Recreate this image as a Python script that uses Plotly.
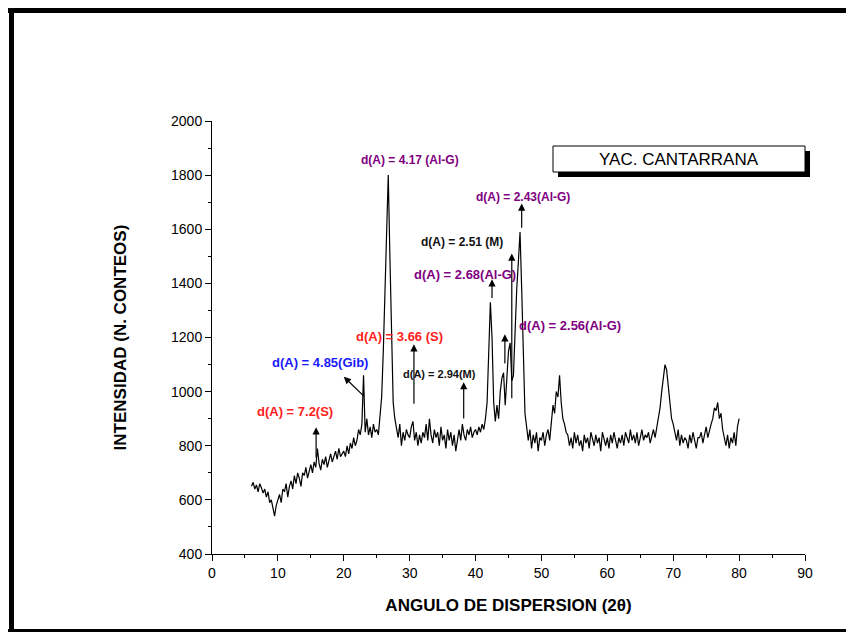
import plotly.graph_objects as go

x_start = 6.0
x_step = 0.25
intensity = [
650,665,640,655,630,660,645,625,
640,610,630,590,600,565,540,580,
600,620,590,640,630,660,610,650,
670,640,690,660,700,680,650,700,
690,720,680,710,730,700,740,720,
790,735,710,750,730,760,720,745,
770,740,760,780,750,790,760,770,
780,760,800,770,810,790,830,800,
820,860,840,880,1060,850,900,840,
870,830,880,850,860,840,900,980,
1150,1400,1600,1800,1500,1150,960,900,
860,830,880,800,850,820,860,840,
830,870,890,820,850,800,840,810,
850,830,880,820,900,840,810,860,
830,850,800,870,820,840,790,860,
820,850,800,840,780,830,860,820,
880,840,820,860,840,870,830,850,
860,840,870,850,880,860,900,960,
1150,1330,1200,960,890,950,900,1000,
1050,1070,950,1050,1150,1180,1040,1060,
1250,1380,1480,1590,1380,1100,920,870,
820,860,790,840,810,850,780,830,
820,850,800,840,860,820,880,950,
920,1000,980,1060,960,900,880,850,
840,800,830,790,850,810,840,800,
820,780,840,810,830,790,850,820,
800,840,810,830,780,850,820,800,
830,790,840,810,850,820,790,830,
810,840,800,850,830,810,860,820,
840,810,850,800,830,860,820,840,
830,850,810,840,860,830,870,900,
940,1000,1060,1100,1080,1020,970,900,
880,850,820,860,800,840,810,830,
820,790,840,810,850,820,790,830,
830,850,810,840,870,830,860,880,
900,940,930,960,900,920,860,830,
800,840,790,830,810,850,800,870,
900]
angle = [x_start + i * x_step for i in range(len(intensity))]

labels = ["d(A) = 7.2(S)", "d(A) = 4.85(Gib)", "d(A) = 3.66 (S)", "d(A) = 2.94(M)",
          "d(A) = 2.68(Al-G)", "d(A) = 2.56(Al-G)", "d(A) = 2.51 (M)", "d(A) = 2.43(Al-G)",
          "d(A) = 4.17 (Al-G)"]
colors = ["#ff2020", "#1a1aff", "#ff2020", "#111111", "#800080", "#800080", "#111111", "#800080", "#800080"]
text_x = [12.6, 16.4, 28.5, 34.6, 38.4, 54.3, 37.9, 47.2, 30.0]
text_y = [928, 1106, 1205, 1065, 1431, 1246, 1553, 1719, 1856]
tail_x = [15.8, 23.2, 30.65, 38.2, 42.5, 44.45, 45.5, 47.0, None]
tail_y = [750, 980, 950, 895, 1340, 1098, 970, 1600, None]
head_x = [15.8, 20.0, 30.65, 38.2, 42.5, 44.45, 45.5, 47.0, None]
head_y = [868, 1055, 1175, 1035, 1415, 1212, 1510, 1695, None]
sizes = [13, 13, 13, 11, 13, 13, 12, 12, 12]

fig = go.Figure()
fig.add_trace(go.Scatter(x=angle, y=intensity, mode="lines",
                         line=dict(color="black", width=1.2), showlegend=False))

ann = []
for i, t in enumerate(labels):
    ann.append(dict(x=text_x[i], y=text_y[i], xref="x", yref="y", text="<b>%s</b>" % t,
                    xanchor="center", showarrow=False,
                    font=dict(color=colors[i], size=sizes[i], family="Liberation Sans, Arial")))
    if tail_x[i] is not None:
        ann.append(dict(x=head_x[i], y=head_y[i], ax=tail_x[i], ay=tail_y[i],
                        xref="x", yref="y", axref="x", ayref="y", text="",
                        showarrow=True, arrowhead=2, arrowsize=1.2, arrowwidth=1.2,
                        arrowcolor="black"))

def px(p):
    return (p - 212) / 593

def py(p):
    return (554 - p) / 433

ann.append(dict(x=px(679), y=py(159), xref="paper", yref="paper", xanchor="center",
                yanchor="middle", text="YAC. CANTARRANA", showarrow=False,
                font=dict(size=17, color="black", family="Liberation Sans, Arial")))

shapes = [
    dict(type="rect", xref="paper", yref="paper", x0=px(558), x1=px(810), y0=py(151), y1=py(177),
         fillcolor="black", line=dict(width=0), layer="below"),
    dict(type="rect", xref="paper", yref="paper", x0=px(553), x1=px(805), y0=py(146), y1=py(172),
         fillcolor="white", line=dict(color="black", width=1), layer="below"),
    dict(type="line", xref="paper", yref="paper", x0=px(8), x1=px(860), y0=py(10.5), y1=py(10.5),
         line=dict(color="black", width=5)),
    dict(type="line", xref="paper", yref="paper", x0=px(11.5), x1=px(11.5), y0=py(8), y1=py(640),
         line=dict(color="black", width=5)),
    dict(type="line", xref="paper", yref="paper", x0=px(8), x1=px(860), y0=py(630.5), y1=py(630.5),
         line=dict(color="black", width=3)),
]

axis_font = dict(family="Liberation Sans, Arial", size=14, color="black")
fig.update_layout(
    width=846, height=624, paper_bgcolor="white", plot_bgcolor="rgba(0,0,0,0)",
    margin=dict(l=204, r=49, t=113, b=78),
    annotations=ann, shapes=shapes,
    xaxis=dict(range=[0, 90], tickvals=list(range(0, 91, 10)), showgrid=False, zeroline=False,
               showline=True, linecolor="black", linewidth=1, ticks="outside", ticklen=6,
               tickcolor="black", tickfont=axis_font,
               minor=dict(dtick=5, ticks="outside", ticklen=3, tickcolor="black"),
               title=dict(text="<b>ANGULO DE DISPERSION (2θ)</b>", standoff=19,
                          font=dict(family="Liberation Sans, Arial", size=17, color="black"))),
    yaxis=dict(range=[400, 2000], tickvals=list(range(400, 2001, 200)), showgrid=False, zeroline=False,
               showline=True, linecolor="black", linewidth=1, ticks="outside", ticklen=6,
               tickcolor="black", tickfont=axis_font,
               minor=dict(dtick=100, ticks="outside", ticklen=3, tickcolor="black"),
               title=dict(text="<b>INTENSIDAD (N. CONTEOS)</b>", standoff=40,
                          font=dict(family="Liberation Sans, Arial", size=17, color="black"))),
)
fig.write_html("out.html")
